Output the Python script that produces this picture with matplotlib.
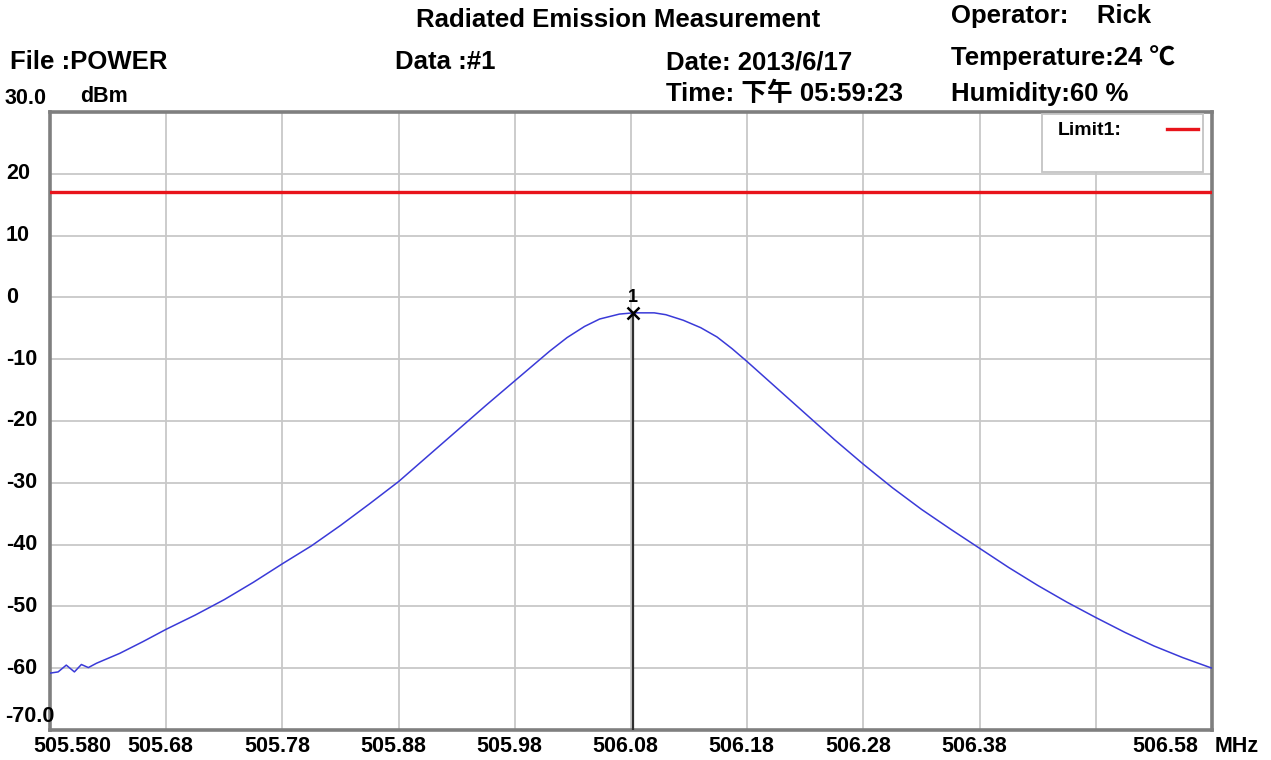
import matplotlib
matplotlib.use("Agg")
import matplotlib.pyplot as plt
import matplotlib.transforms as mtransforms
from matplotlib.patches import Rectangle
from matplotlib.lines import Line2D

# ---------------- data ----------------
freq_mhz = [505.580, 505.587, 505.594, 505.601, 505.607, 505.613, 505.620,
            505.640, 505.660, 505.680, 505.705, 505.730, 505.755, 505.780,
            505.805, 505.830, 505.855, 505.880, 505.905, 505.930, 505.955,
            505.980, 506.000, 506.010, 506.025, 506.040, 506.053, 506.070,
            506.082, 506.100, 506.110, 506.125, 506.140, 506.154, 506.167,
            506.180, 506.205, 506.230, 506.255, 506.280, 506.305, 506.330,
            506.355, 506.380, 506.405, 506.430, 506.455, 506.480, 506.505,
            506.530, 506.555, 506.580]
level_dbm = [-60.8, -60.6, -59.5, -60.6, -59.4, -59.9, -59.2,
             -57.6, -55.7, -53.7, -51.4, -48.9, -46.1, -43.1,
             -40.2, -36.9, -33.4, -29.8, -25.7, -21.6, -17.5,
             -13.5, -10.3, -8.7, -6.5, -4.7, -3.5, -2.7,
             -2.5, -2.5, -2.8, -3.7, -4.9, -6.4, -8.3,
             -10.4, -14.6, -18.8, -23.0, -27.0, -30.8, -34.3,
             -37.5, -40.6, -43.7, -46.6, -49.3, -51.8, -54.2,
             -56.4, -58.3, -60.0]

limit_dbm = 17.0
marker_freq = 506.082
marker_level = -2.5
marker_label = "1"

x_ticks = [505.58, 505.68, 505.78, 505.88, 505.98, 506.08, 506.18, 506.28,
           506.38, 506.48, 506.58]
x_tick_labels = ["505.580", "505.68", "505.78", "505.88", "505.98", "506.08",
                 "506.18", "506.28", "506.38", "", "506.58"]
y_ticks = [30, 20, 10, 0, -10, -20, -30, -40, -50, -60, -70]
y_tick_labels = ["30.0", "20", "10", "0", "-10", "-20", "-30", "-40", "-50",
                 "-60", "-70.0"]

x_min, x_max = 505.58, 506.58
y_min, y_max = -70, 30

# ---------------- figure ----------------
W, H = 1271, 760
fig = plt.figure(figsize=(W / 100, H / 100), dpi=100)
fig.patch.set_facecolor("white")

ax = fig.add_axes([50 / W, 30 / H, 1162 / W, 618 / H])
ax.set_xlim(x_min, x_max)
ax.set_ylim(y_min, y_max)
ax.set_xticks(x_ticks)
ax.set_yticks(y_ticks)
ax.tick_params(length=0, labelbottom=False, labelleft=False)
ax.grid(True, color="#c8c8c8", linewidth=1.3)
ax.set_axisbelow(True)
for sp in ax.spines.values():
    sp.set_color("#7f7f7f")
    sp.set_linewidth(2.6)

tick_font = ["Liberation Sans", "DejaVu Sans"]
head_font = ["Liberation Sans", "Noto Sans CJK SC", "DejaVu Sans"]
TS = 15.5

# trace
ax.plot(freq_mhz, level_dbm, color="#3a3ad8", linewidth=1.1, zorder=3)
# limit line
ax.axhline(limit_dbm, color="#e8141b", linewidth=2.4, zorder=3)
# marker
ax.plot([marker_freq, marker_freq], [marker_level, y_min], color="#303030",
        linewidth=1.6, zorder=4)
ax.plot([marker_freq], [marker_level], marker="x", color="black",
        markersize=9, markeredgewidth=1.8, zorder=5)
ax.annotate(marker_label, xy=(marker_freq, marker_level), xytext=(0, 5),
            textcoords="offset points", ha="center", va="bottom",
            fontsize=13, fontweight="bold", family=tick_font, zorder=5)

# legend box
ax.add_patch(Rectangle((0.854, 0.903), 0.138, 0.093, transform=ax.transAxes,
                       facecolor="white", edgecolor="#c4c4c4", linewidth=1.3,
                       zorder=6))
ax.text(0.867, 0.970, "Limit1:", transform=ax.transAxes, ha="left",
        va="center", fontsize=14, fontweight="bold", family=head_font,
        zorder=7)
ax.add_line(Line2D([0.961, 0.988], [0.973, 0.973], transform=ax.transAxes,
                   color="#e8141b", linewidth=2.4, zorder=7))

# y tick labels
blend_y = mtransforms.blended_transform_factory(fig.transFigure, ax.transData)
for v, lab in zip(y_ticks, y_tick_labels):
    if lab in ("30.0", "-70.0"):
        ax.annotate(lab, xy=(5 / W, v), xycoords=blend_y, xytext=(0, 2.5),
                    textcoords="offset points", ha="left", va="bottom",
                    fontsize=TS, fontweight="bold", family=tick_font)
    else:
        ax.text(6 / W, v, lab, transform=blend_y, ha="left", va="center",
                fontsize=TS, fontweight="bold", family=tick_font)

# x tick labels
blend_x = mtransforms.blended_transform_factory(ax.transData, fig.transFigure)
ly = 14 / H
for i, (v, lab) in enumerate(zip(x_ticks, x_tick_labels)):
    if not lab:
        continue
    if i == 0:
        ax.annotate(lab, xy=(v, ly), xycoords=blend_x, xytext=(-12, 0),
                    textcoords="offset points", ha="left", va="center",
                    fontsize=TS, fontweight="bold", family=tick_font)
    elif i == len(x_ticks) - 1:
        ax.annotate(lab, xy=(v, ly), xycoords=blend_x, xytext=(-10, 0),
                    textcoords="offset points", ha="right", va="center",
                    fontsize=TS, fontweight="bold", family=tick_font)
    else:
        ax.annotate(lab, xy=(v, ly), xycoords=blend_x, xytext=(-4, 0),
                    textcoords="offset points", ha="center", va="center",
                    fontsize=TS, fontweight="bold", family=tick_font)
ax.annotate("MHz", xy=(x_max, ly), xycoords=blend_x, xytext=(2, 0),
            textcoords="offset points", ha="left", va="center",
            fontsize=TS, fontweight="bold", family=tick_font)

# header texts
def ftext(px, py, s, size=18.5, ha="left"):
    fig.text(px / W, 1 - py / H, s, ha=ha, va="center", fontsize=size,
             fontweight="bold", family=head_font)

ftext(618, 20, "Radiated Emission Measurement", ha="center")
ftext(951, 16, "Operator:    Rick")
ftext(10, 62, "File :POWER")
ftext(395, 62, "Data :#1")
ftext(666, 62, "Date: 2013/6/17")
ftext(951, 58, "Temperature:24 \u2103")
ftext(666, 94, "Time: 下午 05:59:23")
ftext(951, 94, "Humidity:60 %")
fig.text(80 / W, 1 - 97 / H, "dBm", ha="left", va="center", fontsize=TS,
         fontweight="bold", family=tick_font)

fig.savefig("out.png", dpi=100)
